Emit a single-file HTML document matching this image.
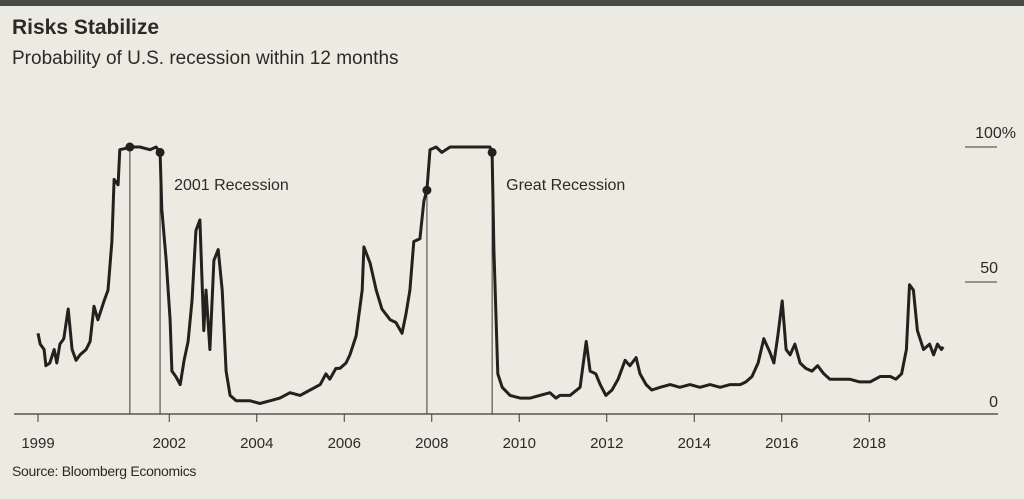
<!DOCTYPE html>
<html><head><meta charset="utf-8"><style>
html,body{margin:0;padding:0;background:#ecebe1;width:1024px;height:499px;overflow:hidden;font-family:"Liberation Sans",sans-serif;color:#2b2a27}
#bar{position:absolute;left:0;top:0;width:1024px;height:6px;background:#4b4b45}
#title{position:absolute;left:12px;top:16px;font-size:21px;font-weight:bold}
#sub{position:absolute;left:12px;top:48px;font-size:19px}
#src{position:absolute;left:12px;top:463px;font-size:14px;letter-spacing:-0.3px}
svg{position:absolute;left:0;top:0}
</style></head><body>
<div id="bar"></div>
<div id="title">Risks Stabilize</div>
<div id="sub">Probability of U.S. recession within 12 months</div>
<div id="src">Source: Bloomberg Economics</div>
<svg id="chart" width="1024" height="499"></svg>
<script>
const years=[1999.0,1999.05,1999.14,1999.18,1999.27,1999.37,1999.43,1999.5,1999.59,1999.69,1999.78,1999.87,1999.96,2000.1,2000.19,2000.28,2000.37,2000.51,2000.6,2000.69,2000.74,2000.83,2000.87,2001.01,2001.1,2001.33,2001.56,2001.7,2001.79,2001.83,2001.93,2002.02,2002.06,2002.15,2002.25,2002.34,2002.43,2002.52,2002.61,2002.7,2002.79,2002.84,2002.93,2003.02,2003.12,2003.21,2003.3,2003.39,2003.53,2003.85,2004.07,2004.3,2004.53,2004.76,2004.99,2005.22,2005.45,2005.58,2005.67,2005.81,2005.9,2006.04,2006.13,2006.27,2006.41,2006.45,2006.59,2006.73,2006.86,2007.05,2007.18,2007.32,2007.41,2007.5,2007.59,2007.73,2007.82,2007.89,2007.96,2008.1,2008.23,2008.42,2008.65,2009.33,2009.38,2009.42,2009.51,2009.61,2009.79,2010.02,2010.25,2010.47,2010.7,2010.84,2010.93,2011.16,2011.39,2011.53,2011.62,2011.75,2011.85,2011.98,2012.12,2012.26,2012.42,2012.53,2012.67,2012.76,2012.9,2013.03,2013.22,2013.45,2013.67,2013.9,2014.13,2014.36,2014.59,2014.82,2015.05,2015.18,2015.32,2015.46,2015.59,2015.73,2015.82,2015.91,2016.01,2016.1,2016.19,2016.3,2016.42,2016.55,2016.69,2016.82,2016.96,2017.1,2017.33,2017.55,2017.78,2017.93,2018.02,2018.25,2018.48,2018.61,2018.74,2018.85,2018.92,2019.01,2019.1,2019.24,2019.38,2019.47,2019.56,2019.65,2019.69];
const probs=[31,27,25,19,20,25,20,27,29,40,25,21,23,25,28,41,36,43,47,65,88,86,99,99.5,100,100,99,100,98,77,58,36,17,15,12,21,28,43,69,73,32,47,25,58,62,47,17,8,6,6,5,6,7,9,8,10,12,16,14,18,18,20,23,30,47,63,57,47,40,36,35,31,38,47,65,66,80,84,99,100,98,100,100,100,98,62,16,11,8,7,7,8,9,7,8,8,11,28,17,16,12,8,10,14,21,19,22,16,12,10,11,12,11,12,11,12,11,12,12,13,15,20,29,24,20,30,43,25,23,27,20,18,17,19,16,14,14,14,13,13,13,15,15,14,16,25,49,47,32,25,27,23,27,25,26];
const tickYears=[1999,2002,2004,2006,2008,2010,2012,2014,2016,2018];
const yTicks=[0,50,100];
const yTickLabels=["0","50","100%"];
const recessionStarts=[2001.1,2007.89];
const recessionEnds=[2001.79,2009.38];
const recessionLabels=["2001 Recession","Great Recession"];
const NS="http://www.w3.org/2000/svg";
const svg=document.getElementById('chart');
const X=y=>38+(y-1999)*43.75;
const Y=v=>417-v*2.7;
function mk(t,a){const e=document.createElementNS(NS,t);for(const k in a)e.setAttribute(k,a[k]);svg.appendChild(e);return e;}
function interp(yr){for(let i=1;i<years.length;i++){if(years[i]>=yr){const t=(yr-years[i-1])/(years[i]-years[i-1]);return probs[i-1]+t*(probs[i]-probs[i-1]);}}return probs[probs.length-1];}
let ax=mk('line',{x1:14,x2:998,y1:414,y2:414,stroke:'#3a3935','stroke-width':1.2});


tickYears.forEach(t=>{
 let l=mk('line',{x1:X(t),x2:X(t),y1:414,y2:422,stroke:'#3a3935','stroke-width':1});
 
 
 let tx=mk('text',{x:X(t),y:448,'text-anchor':'middle','font-size':15,fill:'#2b2a27'});
 tx.textContent=t;
 
 
});
yTicks.forEach((v,i)=>{
 if(v>0){let l=mk('line',{x1:965,x2:997,y1:Y(v),y2:Y(v),stroke:'#3a3935','stroke-width':1});
 
 }
 let tx=mk('text',{x:1016,y:Y(v)-(v>0?9:10),'text-anchor':'end','font-size':16,fill:'#2b2a27'});
 if(v<100)tx.setAttribute('x',998);
 tx.textContent=yTickLabels[i];
 
 
});
recessionStarts.forEach((s,i)=>{
 [s,recessionEnds[i]].forEach((d,j)=>{
  let l=mk('line',{x1:X(d),x2:X(d),y1:Y(interp(d)),y2:414,stroke:'#3a3935','stroke-width':1});
  
  
 });
 let tx=mk('text',{x:X(recessionEnds[i])+14,y:190,'font-size':16,fill:'#2b2a27'});
 tx.textContent=recessionLabels[i];
 
 
});
let d=years.map((yr,i)=>(i?'L':'M')+X(yr).toFixed(1)+','+Y(Math.min(probs[i],100)).toFixed(1)).join('');
let p=mk('path',{d:d,fill:'none',stroke:'#22211e','stroke-width':3,'stroke-linejoin':'round'});


recessionStarts.forEach((s,i)=>{
 [s,recessionEnds[i]].forEach((dd,j)=>{
  let c=mk('circle',{cx:X(dd),cy:Y(Math.min(interp(dd),100)),r:4.5,fill:'#22211e'});
  
  
 });
});
</script>
</body></html>
